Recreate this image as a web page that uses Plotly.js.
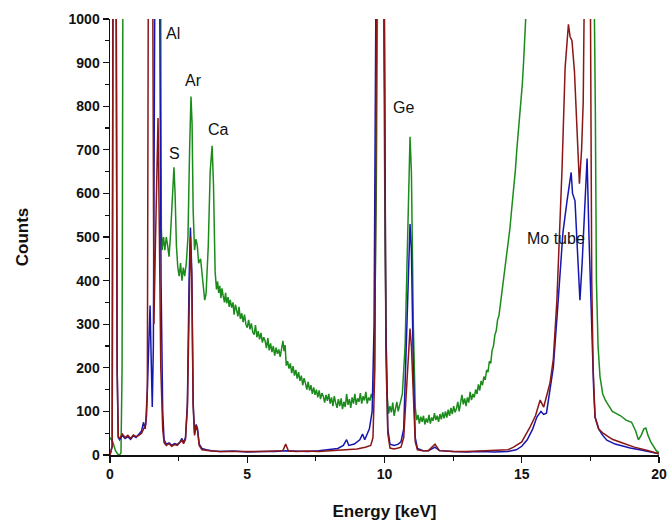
<!DOCTYPE html>
<html>
<head>
<meta charset="utf-8">
<script src="https://cdn.plot.ly/plotly-3.0.1.min.js"></script>
<style>html,body{margin:0;padding:0;background:#fff;}#chart{width:667px;height:522px;}</style>
</head>
<body>
<div id="chart"></div>
<script>
// Green spectrum
const greenX = [0.00,0.05,0.10,0.15,0.20,0.28,0.35,0.40,0.44,0.47,0.60,1.00,1.50,1.80,1.84,1.87,1.90,1.95,2.00,2.05,2.10,2.15,2.20,2.25,2.30,2.33,2.37,2.42,2.47,2.52,2.57,2.62,2.67,2.72,2.78,2.84,2.90,2.95,2.99,3.03,3.08,3.13,3.18,3.23,3.30,3.38,3.45,3.50,3.58,3.65,3.72,3.77,
3.83,3.88,3.92,3.96,4.00,4.04,4.08,4.12,4.17,4.21,4.25,4.30,4.34,4.38,4.43,4.48,4.52,4.57,4.61,4.66,4.70,4.75,4.80,4.85,4.90,4.95,5.00,5.05,5.10,5.15,5.20,5.25,5.30,5.35,5.40,5.45,5.50,5.55,5.60,5.65,5.70,5.75,5.80,5.85,5.90,5.95,6.00,6.05,6.10,6.15,6.20,6.25,6.30,6.34,6.38,6.42,6.47,6.52,6.57,6.62,6.67,6.72,6.77,6.82,6.87,6.92,6.97,7.02,7.07,7.12,7.17,7.22,7.27,7.32,7.37,7.42,7.47,7.52,7.57,7.62,7.67,7.72,7.77,7.82,7.87,7.92,7.97,8.02,8.07,8.12,8.17,8.22,8.27,8.32,8.37,8.42,8.47,8.52,8.57,8.62,8.67,8.72,8.77,8.82,8.87,8.92,8.97,9.02,9.07,9.12,9.17,9.22,9.27,9.32,9.37,9.42,9.47,9.52,9.57,
9.62,9.70,9.76,9.95,10.02,10.08,10.15,10.20,10.25,10.30,10.35,10.40,10.45,10.50,10.55,10.60,10.65,10.75,10.85,10.93,10.98,11.05,
11.12,11.17,11.22,11.27,11.32,11.37,11.42,11.47,11.52,11.57,11.62,11.67,11.72,11.77,11.82,11.87,11.92,11.97,12.02,12.07,12.12,12.17,12.22,12.27,12.32,12.37,12.42,12.47,12.52,12.57,12.62,12.67,12.72,12.77,12.82,12.87,12.92,12.97,13.02,13.07,13.12,13.17,13.22,13.27,13.32,13.37,13.42,13.47,13.52,13.57,13.62,13.67,13.72,13.77,13.82,13.87,13.92,13.97,14.02,14.07,14.12,14.17,14.22,14.27,14.32,14.37,14.42,14.47,14.52,14.57,14.62,14.67,14.72,14.77,14.82,14.87,14.92,14.97,15.02,15.07,15.12,15.17,15.22,15.30,
17.60,17.68,17.72,17.78,17.85,17.95,18.05,18.15,18.30,18.45,18.60,18.80,19.00,19.15,19.25,19.35,19.45,19.52,19.60,19.70,19.80,19.90,20.00];
const greenY = [40,35,30,20,10,2,0,5,200,1100,1500,1500,1500,1500,1200,520,470,500,470,500,480,455,500,560,640,660,600,480,430,410,440,400,430,410,440,500,700,822,760,560,470,495,480,440,450,400,355,370,480,650,709,620,
420,380,398,372,388,360,382,366,350,372,348,362,340,356,338,350,322,345,330,318,340,312,325,305,322,300,292,310,288,302,282,276,298,270,284,265,280,258,270,262,245,268,240,256,236,250,228,246,232,242,225,250,262,238,252,205,215,198,210,188,204,182,195,175,190,170,182,160,176,165,150,168,148,160,140,155,138,150,132,148,128,142,135,120,138,124,140,118,132,112,135,120,108,128,112,130,105,122,110,140,115,128,108,132,118,140,115,130,122,142,118,135,125,145,118,132,125,140,130,
170,600,1200,1200,500,150,95,112,98,120,90,108,122,100,115,128,140,250,560,730,650,300,
110,80,92,72,88,76,90,70,84,74,92,72,86,78,96,80,90,76,94,82,98,84,100,86,104,90,108,94,112,98,106,122,100,118,138,116,130,112,132,120,145,126,140,132,150,140,162,148,170,160,180,172,195,190,215,210,240,250,275,285,310,320,345,365,390,410,440,462,495,520,555,585,620,655,700,735,770,810,850,905,960,1020,1100,1300,
1300,800,400,250,180,140,125,115,100,95,90,80,75,55,35,45,60,62,45,30,20,10,5];

// Blue spectrum
const blueX = [0.00,0.08,0.11,0.22,0.26,0.30,0.35,0.45,0.55,0.65,0.75,0.85,0.95,1.05,1.15,1.22,1.28,1.33,1.40,1.46,1.50,1.54,1.58,1.64,1.80,1.86,1.92,1.97,2.05,2.15,2.25,2.35,2.45,2.55,2.62,2.68,2.75,2.82,2.88,2.93,2.98,3.03,3.08,3.14,3.19,3.25,3.35,3.50,3.70,4.00,4.50,5.00,5.50,6.00,6.40,6.80,7.20,7.60,8.00,8.30,8.50,8.62,8.70,8.90,9.10,9.20,9.28,9.35,9.45,9.55,9.62,9.70,9.98,10.05,10.12,10.20,10.35,10.50,10.60,10.70,10.80,10.88,10.93,10.98,11.05,11.12,11.20,11.40,11.60,11.84,12.00,12.50,13.00,13.50,14.00,14.50,14.80,15.00,15.20,15.40,15.55,15.70,15.80,15.90,16.00,16.15,16.30,16.40,16.50,16.65,16.72,16.80,16.85,16.94,17.02,17.12,17.20,17.28,17.38,17.45,17.55,17.62,17.67,17.80,17.95,18.10,18.40,18.70,18.95,19.30,19.60,20.00];
const blueY = [0,20,1200,1200,200,40,35,45,38,42,36,44,40,48,55,75,60,90,250,343,220,110,250,1200,1200,400,100,35,25,28,22,26,24,30,38,28,40,120,400,522,420,120,50,70,60,25,15,12,10,8,9,7,8,8,10,9,8,10,12,15,22,35,22,25,35,48,35,45,60,100,300,1200,1200,300,60,25,22,25,30,60,250,450,530,470,200,40,15,10,10,18,10,8,7,8,7,8,12,20,35,60,87,100,93,96,140,201,330,430,510,583,620,648,600,583,480,355,440,560,680,500,279,150,87,60,45,34,25,20,16,12,8,3];

// Dark red spectrum
const redX = [0.00,0.08,0.11,0.22,0.26,0.30,0.35,0.45,0.55,0.65,0.75,0.85,0.95,1.05,1.15,1.22,1.30,1.36,1.40,1.55,1.60,1.66,1.72,1.75,1.80,1.85,1.92,1.97,2.05,2.15,2.25,2.35,2.45,2.55,2.62,2.68,2.75,2.82,2.88,2.93,2.98,3.03,3.08,3.14,3.19,3.25,3.35,3.50,3.70,4.00,4.50,5.00,5.50,6.00,6.30,6.40,6.50,6.80,7.20,7.60,8.00,8.50,9.00,9.30,9.50,9.58,9.65,9.72,9.98,10.05,10.12,10.20,10.35,10.50,10.60,10.70,10.80,10.88,10.93,10.98,11.05,11.12,11.20,11.40,11.60,11.84,12.00,12.50,13.00,13.50,14.00,14.50,14.70,15.00,15.30,15.50,15.67,15.80,16.03,16.15,16.28,16.47,16.58,16.70,16.76,16.83,16.92,17.00,17.10,17.18,17.24,17.30,17.49,17.55,17.60,17.67,17.80,17.96,18.30,18.70,19.10,19.55,20.00];
const redY = [0,20,1200,1200,200,42,38,48,40,45,38,46,42,45,50,60,70,150,1200,1200,300,500,700,773,500,200,60,28,22,26,20,24,22,28,34,26,36,110,380,500,400,110,45,68,55,22,12,10,9,8,8,7,8,9,10,25,9,8,9,8,10,12,14,18,22,40,200,1200,1200,250,50,16,14,16,18,40,150,250,290,250,120,30,12,10,10,25,10,8,8,9,10,12,18,30,64,90,126,110,165,220,355,660,888,988,960,950,880,773,622,700,812,1200,1200,400,200,87,60,50,36,27,18,11,3];

// Peak labels
const labelText = ["Al","Ar","S","Ca","Ge","Mo tube"];
const labelX = [2.30,3.05,2.35,3.95,10.70,16.25];
const labelY = [967,860,692,747,798,496];

const lineW = 1.5;
const traces = [
  {x: greenX, y: greenY, type: 'scatter', mode: 'lines', line: {color: '#1b8c1b', width: lineW}, name: 'green', hoverinfo: 'x+y'},
  {x: blueX, y: blueY, type: 'scatter', mode: 'lines', line: {color: '#1616b0', width: lineW}, name: 'blue', hoverinfo: 'x+y'},
  {x: redX, y: redY, type: 'scatter', mode: 'lines', line: {color: '#8a1616', width: lineW}, name: 'red', hoverinfo: 'x+y'}
];

const annotations = labelText.map((t, i) => ({
  x: labelX[i], y: labelY[i], xref: 'x', yref: 'y', text: t, showarrow: false,
  font: {family: 'Liberation Sans, Arial, sans-serif', size: 16, color: '#111'}
}));

const layout = {
  width: 667, height: 522,
  margin: {l: 110, r: 8, t: 19, b: 67},
  paper_bgcolor: '#fff', plot_bgcolor: '#fff',
  showlegend: false,
  font: {family: 'Liberation Sans, Arial, sans-serif', color: '#111'},
  xaxis: {
    range: [0, 20], tickmode: 'linear', tick0: 0, dtick: 5,
    ticks: 'outside', ticklen: 6, tickwidth: 1.2, tickcolor: '#111',
    minor: {tickmode: 'linear', dtick: 2.5, ticks: 'outside', ticklen: 4, tickwidth: 1.2, tickcolor: '#111'},
    showline: true, linecolor: '#111', linewidth: 1.5, showgrid: false, zeroline: false,
    tickfont: {size: 14, family: 'Liberation Sans, Arial, sans-serif', weight: 'bold', color: '#111'},
    title: {text: '<b>Energy [keV]</b>', font: {size: 17, color: '#111'}, standoff: 24}
  },
  yaxis: {
    range: [0, 1000], tickmode: 'linear', tick0: 0, dtick: 100,
    ticks: 'outside', ticklen: 6, tickwidth: 1.2, tickcolor: '#111',
    minor: {tickmode: 'linear', dtick: 50, ticks: 'outside', ticklen: 4, tickwidth: 1.2, tickcolor: '#111'},
    showline: true, linecolor: '#111', linewidth: 1.5, showgrid: false, zeroline: false,
    tickfont: {size: 14, family: 'Liberation Sans, Arial, sans-serif', weight: 'bold', color: '#111'},
    title: {text: '<b>Counts</b>', font: {size: 17, color: '#111'}, standoff: 35}
  },
  annotations: annotations
};

Plotly.newPlot('chart', traces, layout, {displayModeBar: false, staticPlot: true});
</script>
</body>
</html>
